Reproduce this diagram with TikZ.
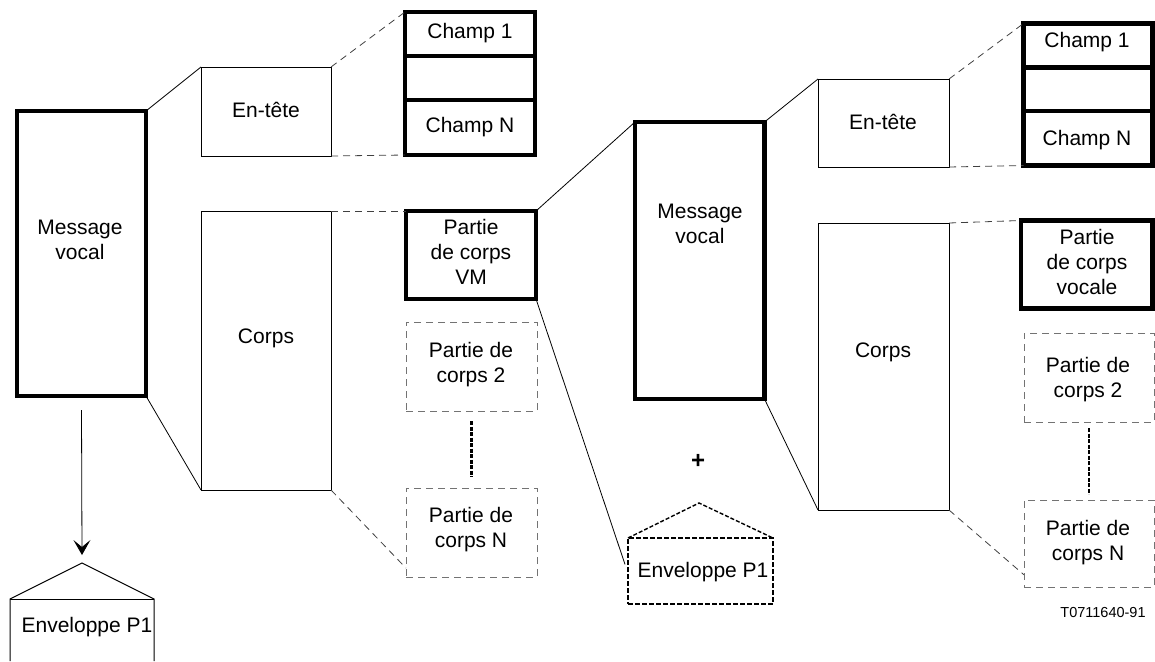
\documentclass[tikz,border=0pt]{standalone}
\usepackage{fontspec}
\setmainfont{Liberation Sans}
\usetikzlibrary{arrows.meta,calc}

\begin{document}
\begin{tikzpicture}[x=1pt,y=-1pt,
  every node/.style={font=\fontsize{21}{25}\selectfont, align=center, inner sep=0pt, outer sep=0pt},
  sz/.style 2 args={minimum width=#1pt, minimum height=#2pt, anchor=north west},
  heavybox/.style={draw, rectangle, line width=4.5pt},
  thinbox/.style={draw, rectangle, line width=0.9pt},
  optbox/.style={draw=black!55, rectangle, line width=1pt, dash pattern=on 7pt off 5pt},
  envbox/.style={draw, rectangle, line width=2pt, dash pattern=on 5pt off 2pt},
  solidlink/.style={draw, line width=0.8pt},
  dashlink/.style={draw=black!75, line width=0.8pt, dash pattern=on 7pt off 5pt},
  ellipsis/.style={draw, line width=2.2pt, dash pattern=on 4pt off 1.5pt},
  label/.style={font=\fontsize{21}{25}\selectfont}
]
\useasboundingbox (0,0) rectangle (1155,661);

% ---------- first message ----------
\node[heavybox, sz={129}{285}] (mv1) at (17,111) {};
\node[thinbox, sz={130}{89}] (hd1) at (201,67) {};
\node[thinbox, sz={130}{279}] (cp1) at (201,211) {};
\node[heavybox, sz={130}{44}] (ch1a) at (405,12) {};
\node[heavybox, sz={130}{44}] (ch1b) at (405,56) {};
\node[heavybox, sz={130}{55}] (ch1c) at (405,100) {};
\node[heavybox, sz={130}{88}] (vm1) at (406,211) {};
\node[optbox, sz={131}{89}] (pc2a) at (406,322) {};
\node[optbox, sz={131}{89}] (pcNa) at (406,488) {};

\node[label] (t-mv1) at (80,240) {Message\\vocal};
\node[label] (t-hd1) at (266,110) {En-tête};
\node[label] (t-cp1) at (266,338) {Corps};
\node[label] (t-ch1a) at (470,33) {Champ 1};
\node[label] (t-ch1c) at (470,127) {Champ N};
\node[label] (t-vm1) at (471,252) {Partie\\de corps\\VM};
\node[label] (t-pc2a) at (471,365) {Partie de\\corps 2};
\node[label] (t-pcNa) at (471,530) {Partie de\\corps N};

\draw[solidlink] (mv1.north east) -- (hd1.north west);
\draw[solidlink] (mv1.south east) -- (cp1.south west);
\draw[dashlink] (hd1.north east) -- (ch1a.north west);
\draw[dashlink] (hd1.south east) -- (ch1c.south west);
\draw[dashlink] (cp1.north east) -- (vm1.north west);
\draw[dashlink] (cp1.south east) -- ($(pcNa.north west)!0.9!(pcNa.south west)$);
\draw[ellipsis] ([yshift=-10pt]pc2a.south) -- ([yshift=11pt]pcNa.north);

% envelope below the first message
\coordinate (e1l) at (10,599);
\coordinate (e1r) at (154,599);
\coordinate (e1top) at (82,563);
\coordinate (e1lb) at (10,661);
\coordinate (e1rb) at (154,661);
\draw[line width=1pt] (e1lb) -- (e1l) -- (e1top) -- (e1r) -- (e1rb);
\draw[line width=1pt] (e1l) -- (e1r);
\node[label] (t-env1) at (87,627) {Enveloppe P1};
\draw[line width=0.8pt, -{Stealth[length=15pt,width=17pt,inset=7pt]}]
  ([yshift=-14pt]mv1.south) -- ([yshift=8pt]e1top);

% ---------- embedded voice message ----------
\node[heavybox, sz={129.5}{277}] (mv2) at (635,122) {};
\node[label] (t-mv2) at (700,224) {Message\\vocal};
\node[envbox, sz={145}{66}] (env2) at (628,538) {};
\coordinate (e2top) at ($(env2.north)+(-1.5,-35)$);
\draw[line width=1.4pt, dash pattern=on 4pt off 2pt] (env2.north west) -- (e2top) -- (env2.north east);
\node[label] (t-env2) at (703,572) {Enveloppe P1};
\node[font=\fontsize{24}{25}\selectfont\bfseries] (plus) at (698,461) {+};

\draw[solidlink] (vm1.north east) -- (mv2.north west);
\draw[solidlink] (vm1.south east) -- ($(env2.north west)!0.4!(env2.south west)+(-3,0)$);

\node[thinbox, sz={131}{88}] (hd2) at (818,79) {};
\node[thinbox, sz={131}{287}] (cp2) at (818,223) {};
\node[heavybox, sz={129}{44}] (ch2a) at (1023.5,23.5) {};
\node[heavybox, sz={129}{43.5}] (ch2b) at (1023.5,67.5) {};
\node[heavybox, sz={129}{54.5}] (ch2c) at (1023.5,111) {};
\node[heavybox, sz={131.5}{88}] (voc) at (1021,220.5) {};
\node[optbox, sz={130}{89}] (pc2b) at (1024,333) {};
\node[optbox, sz={130}{87}] (pcNb) at (1024,500) {};

\node[label] (t-hd2) at (883,122) {En-tête};
\node[label] (t-cp2) at (883,352) {Corps};
\node[label] (t-ch2a) at (1087,42) {Champ 1};
\node[label] (t-ch2c) at (1087,140) {Champ N};
\node[label] (t-voc) at (1087,262) {Partie\\de corps\\vocale};
\node[label] (t-pc2b) at (1088,380) {Partie de\\corps 2};
\node[label] (t-pcNb) at (1088,543) {Partie de\\corps N};

\draw[solidlink] (mv2.north east) -- (hd2.north west);
\draw[solidlink] (mv2.south east) -- (cp2.south west);
\draw[dashlink] (hd2.north east) -- (ch2a.north west);
\draw[dashlink] (hd2.south east) -- (ch2c.south west);
\draw[dashlink] (cp2.north east) -- (voc.north west);
\draw[dashlink] (cp2.south east) -- ($(pcNb.north west)!0.86!(pcNb.south west)$);
\draw[ellipsis] ([yshift=-6pt]pc2b.south) -- ([yshift=6pt]pcNb.north);

\node[font=\fontsize{14.5}{16}\selectfont] (ref) at (1103,612) {T0711640-91};
\end{tikzpicture}
\end{document}
